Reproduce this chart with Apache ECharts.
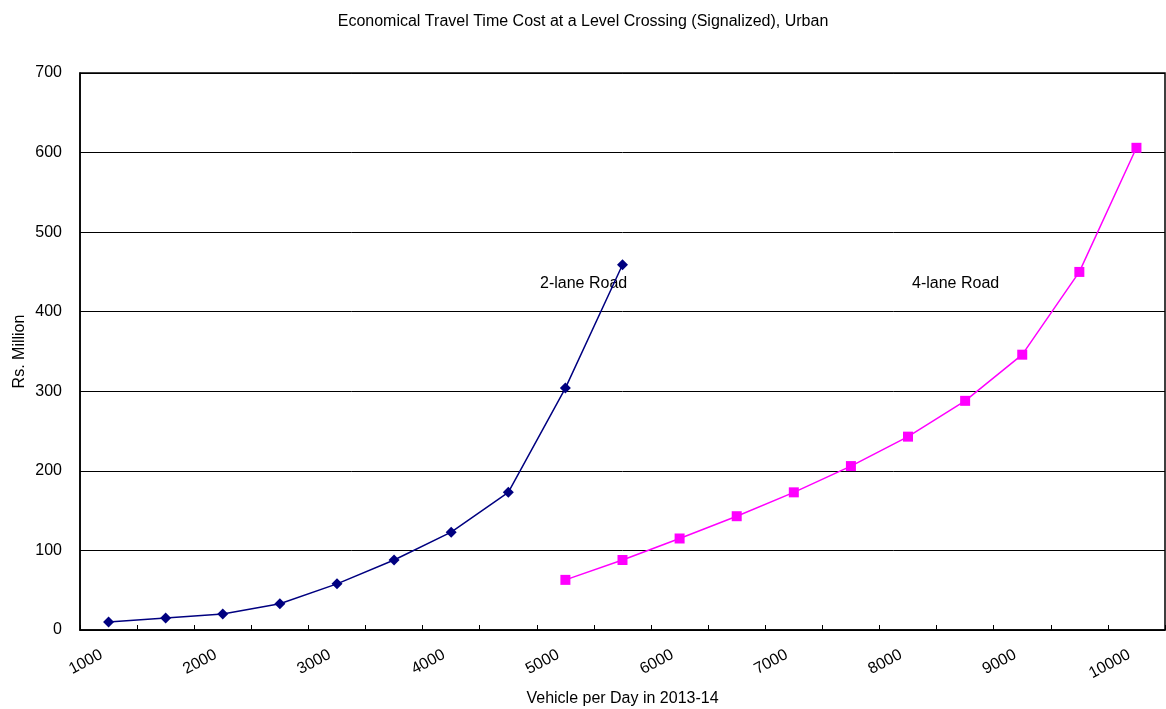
<!DOCTYPE html>
<html>
<head>
<meta charset="utf-8">
<title>Economical Travel Time Cost at a Level Crossing (Signalized), Urban</title>
<script src="https://cdn.jsdelivr.net/npm/echarts@6/dist/echarts.min.js"></script>
<style>
  html, body { margin: 0; padding: 0; background: #fff; }
  #chart { width: 1166px; height: 709px; }
</style>
</head>
<body>
<div id="chart"></div>
<script>
// Vehicles per day (category axis, 500 step)
const categories = ['1000','1500','2000','2500','3000','3500','4000','4500','5000','5500',
                    '6000','6500','7000','7500','8000','8500','9000','9500','10000'];

// Cost in Rs. Million
const twoLane  = [10, 15, 20, 33, 58, 88, 123, 173, 304, 459,
                  null, null, null, null, null, null, null, null, null];
const fourLane = [null, null, null, null, null, null, null, null, 63, 88,
                  115, 143, 173, 206, 243, 288, 346, 450, 606];

const yTicks = { min: 0, max: 700, interval: 100 };

const font = 'Liberation Sans, Arial, sans-serif';
const chart = echarts.init(document.getElementById('chart'));

chart.setOption({
  backgroundColor: '#ffffff',
  animation: false,
  title: {
    text: 'Economical Travel Time Cost at a Level Crossing (Signalized), Urban',
    left: 'center',
    top: 9,
    textStyle: { fontFamily: font, fontSize: 16, fontWeight: 'normal', color: '#000' }
  },
  grid: {
    left: 80, right: 1, top: 73, bottom: 79,
    containLabel: false,
    outerBoundsMode: 'none',
    show: true, borderColor: '#000', borderWidth: 1.5, backgroundColor: '#fff'
  },
  xAxis: {
    type: 'category',
    data: categories,
    boundaryGap: true,
    name: 'Vehicle per Day in 2013-14',
    nameLocation: 'middle',
    nameGap: 61,
    nameMoveOverlap: false,
    nameTextStyle: { fontFamily: font, fontSize: 16, color: '#000' },
    axisLine: { lineStyle: { color: '#000', width: 1.5 } },
    axisTick: { show: true, inside: true, length: 5, interval: 0, lineStyle: { color: '#000' } },
    axisLabel: {
      interval: 1, rotate: 28, margin: 20, padding: [0, 8, 0, 0],
      fontFamily: font, fontSize: 16, color: '#000'
    },
    splitLine: { show: false }
  },
  yAxis: {
    type: 'value',
    min: yTicks.min, max: yTicks.max, interval: yTicks.interval,
    name: 'Rs. Million',
    nameLocation: 'middle',
    nameGap: 52,
    nameMoveOverlap: false,
    nameTextStyle: { fontFamily: font, fontSize: 16, color: '#000' },
    axisLine: { show: true, lineStyle: { color: '#000', width: 1.5 } },
    axisTick: { show: false },
    axisLabel: { margin: 18, fontFamily: font, fontSize: 16, color: '#000' },
    splitLine: { lineStyle: { color: '#000', width: 1 } }
  },
  graphic: [
    { type: 'text', left: 540, top: 276,
      style: { text: '2-lane Road', fontFamily: font, fontSize: 16, fill: '#000' } },
    { type: 'text', left: 912, top: 276,
      style: { text: '4-lane Road', fontFamily: font, fontSize: 16, fill: '#000' } }
  ],
  series: [
    {
      name: '2-lane Road',
      type: 'line',
      data: twoLane,
      symbol: 'diamond',
      symbolSize: 11,
      connectNulls: false,
      lineStyle: { color: '#000080', width: 1.5 },
      itemStyle: { color: '#000080' }
    },
    {
      name: '4-lane Road',
      type: 'line',
      data: fourLane,
      symbol: 'rect',
      symbolSize: 10,
      connectNulls: false,
      lineStyle: { color: '#ff00ff', width: 1.5 },
      itemStyle: { color: '#ff00ff' }
    }
  ]
});
</script>
</body>
</html>
